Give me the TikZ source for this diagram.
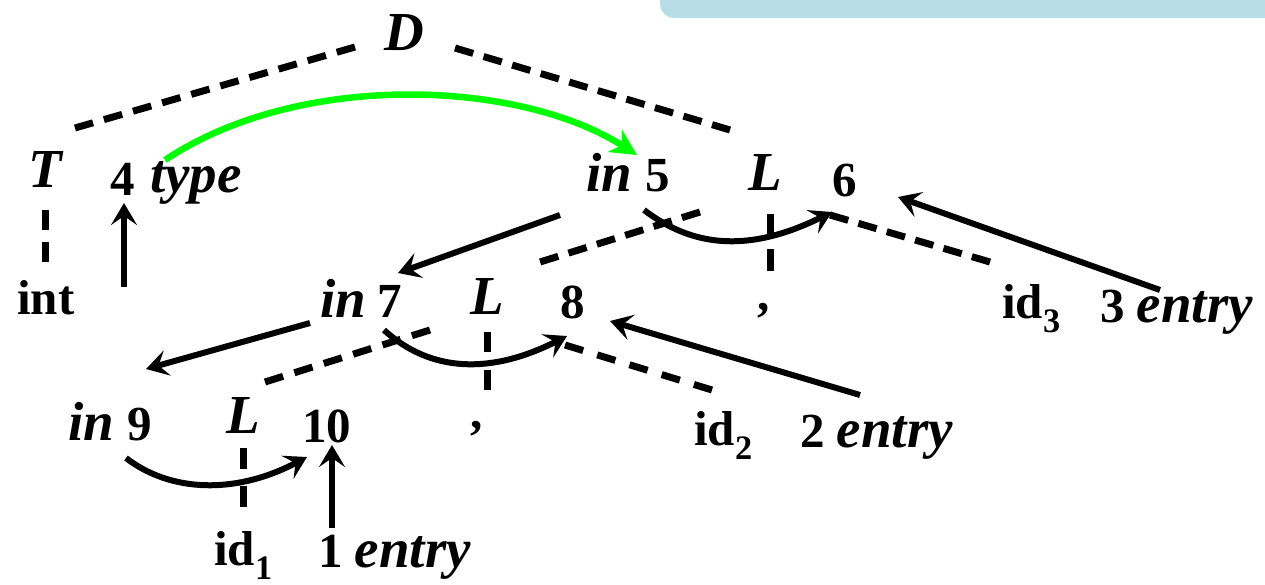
\documentclass[tikz,border=0pt]{standalone}
\usepackage{fontspec}
\setmainfont{Liberation Serif}
\usetikzlibrary{arrows.meta,calc}
\definecolor{topblue}{RGB}{183,222,232}
\definecolor{arcgreen}{RGB}{0,255,0}
\newcommand\itf{\fontsize{55}{57}\selectfont\bfseries\itshape}
\begin{document}
\begin{tikzpicture}[x=1pt,y=-1pt,
  lbl/.style={anchor=base west,inner sep=0pt,font=\fontsize{49}{51}\selectfont\bfseries},
  ilbl/.style={anchor=base west,inner sep=0pt,font=\itf},
  dashln/.style 2 args={line width=7pt,dash pattern=on #1pt off #2pt},
  arr/.style={line width=6pt,-{Stealth[length=22pt,width=26pt,inset=9pt]}},
  garr/.style={line width=6.5pt,draw=arcgreen,-{Stealth[length=26pt,width=26pt,inset=8pt]}}]
\useasboundingbox (0,0) rectangle (1265,584);
\fill[topblue,rounded corners=14pt] (660,-20) rectangle (1285,18);
% labels
\node[ilbl] (D) at (384,50) {D};
\node[ilbl] (T) at (28,187) {T};
\node[lbl] (n4) at (110,195) {4};
\node[ilbl] (type) at (150,192) {type};
\node[ilbl] (in5) at (586,191) {in};
\node[lbl] (n5) at (645,191) {5};
\node[ilbl] (L1) at (748,190) {L};
\node[lbl] (n6) at (832,196) {6};
\node[lbl] (int) at (17,314) {int};
\node[ilbl] (in7) at (320,317) {in};
\node[lbl] (n7) at (377,317) {7};
\node[ilbl] (L2) at (470,314) {L};
\node[lbl] (n8) at (560,318) {8};
\node[lbl] (c1) at (757,310) {,};
\node[lbl] (id3) at (1002,318) {id$_{\mathbf{3}}$};
\node[lbl] (e3) at (1100,322) {3 {\itf entry}};
\node[ilbl] (in9) at (68,440) {in};
\node[lbl] (n9) at (127,440) {9};
\node[ilbl] (L3) at (226,433) {L};
\node[lbl] (n10) at (302,442) {10};
\node[lbl] (c2) at (470,428) {,};
\node[lbl] (id2) at (694,445) {id$_{\mathbf{2}}$};
\node[lbl] (e2) at (800,447) {2 {\itf entry}};
\node[lbl] (id1) at (214,565) {id$_{\mathbf{1}}$};
\node[lbl] (e1) at (318,567) {1 {\itf entry}};
% connector end points
\coordinate (DTa) at (355,47);  \coordinate (DTb) at (75,128);
\coordinate (DLa) at (455,48);  \coordinate (DLb) at (730,130);
\coordinate (Ta) at (45,210);   \coordinate (Tb) at (45,262);
\coordinate (i4a) at (124,287); \coordinate (i4b) at (124,203);
\coordinate (ga) at (165,160);  \coordinate (gb) at (637,155);
\coordinate (a57) at (560,215); \coordinate (b57) at (398,273);
\coordinate (L1a) at (700,212); \coordinate (L1b) at (540,262);
\coordinate (L1c) at (770,214); \coordinate (L1d) at (770,271);
\coordinate (L1e) at (830,215); \coordinate (L1f) at (990,262);
\coordinate (c56a) at (644,210); \coordinate (c56b) at (832,212);
\coordinate (e3a) at (1160,290); \coordinate (e3b) at (898,197);
\coordinate (a79) at (310,323); \coordinate (b79) at (146,369);
\coordinate (L2a) at (430,330); \coordinate (L2b) at (265,382);
\coordinate (L2c) at (487,332); \coordinate (L2d) at (487,390);
\coordinate (L2e) at (565,345); \coordinate (L2f) at (712,390);
\coordinate (c78a) at (384,330); \coordinate (c78b) at (567,336);
\coordinate (e2a) at (860,395); \coordinate (e2b) at (610,321);
\coordinate (c910a) at (126,458); \coordinate (c910b) at (307,457);
\coordinate (L3a) at (243,448); \coordinate (L3b) at (243,507);
\coordinate (e1a) at (332,528); \coordinate (e1b) at (332,445);
% dashed tree edges
\draw[dashln={19}{11.3}] (DTa) -- (DTb);
\draw[dashln={19}{10.8}] (DLa) -- (DLb);
\draw[dashln={20}{12}] (Ta) -- (Tb);
\draw[dashln={19}{10.7}] (L1a) -- (L1b);
\draw[dashln={22}{13}] (L1c) -- (L1d);
\draw[dashln={19}{10.56}] (L1e) -- (L1f);
\draw[dashln={19}{11.8}] (L2a) -- (L2b);
\draw[dashln={20}{18}] (L2c) -- (L2d);
\draw[dashln={19}{14.7}] (L2e) -- (L2f);
\draw[dashln={21}{17}] (L3a) -- (L3b);
% arrows
\draw[arr] (i4a) -- (i4b);
\draw[garr] (ga) .. controls (300,70) and (520,80) .. (gb);
\draw[arr] (a57) -- (b57);
\draw[arr] (c56a) .. controls (690,245) and (745,255) .. (c56b);
\draw[arr] (e3a) -- (e3b);
\draw[arr] (a79) -- (b79);
\draw[arr] (c78a) .. controls (430,372) and (490,375) .. (c78b);
\draw[arr] (e2a) -- (e2b);
\draw[arr] (c910a) .. controls (170,492) and (235,495) .. (c910b);
\draw[arr] (e1a) -- (e1b);
\end{tikzpicture}
\end{document}
